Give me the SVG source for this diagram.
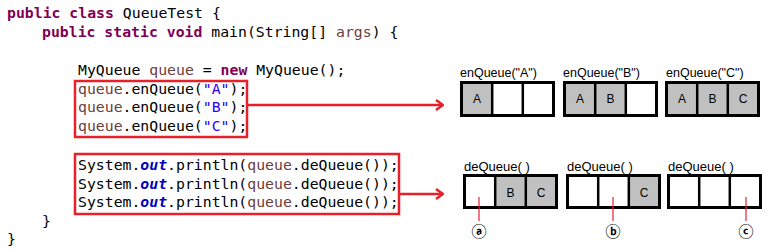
<svg xmlns="http://www.w3.org/2000/svg" width="773" height="252" viewBox="0 0 773 252" xml:space="preserve">
<defs>
<style>
.code{font-family:"DejaVu Sans Mono","Liberation Mono",monospace;font-size:14.8px;fill:#000}
.kw{font-weight:bold;fill:#7f0055}
.var{fill:#6a3e3e}
.str{fill:#2a00ff}
.fld{font-weight:bold;font-style:italic;fill:#0000c0}
.hl{fill:none;stroke:#e8202a;stroke-width:2.5}
.conn{fill:none;stroke:#e8202a;stroke-width:2.5}
.pin{fill:none;stroke:#e8202a;stroke-width:1.2}
.bg{fill:#fff}
.box{fill:none;stroke:#000;stroke-width:3}
.div{stroke:#000;stroke-width:2.5}
.g{fill:#c0c0c0}
.lbl{font-family:"Liberation Sans",Arial,sans-serif;font-size:12.5px;fill:#000}
.dlbl{font-family:"Liberation Sans",Arial,sans-serif;font-size:13px;fill:#000}
.cell{font-family:"Liberation Sans",Arial,sans-serif;font-size:12px;fill:#000;text-anchor:middle}
.circ{font-family:"DejaVu Sans","Noto Sans CJK SC",sans-serif;font-size:15px;font-weight:bold;fill:#000;text-anchor:middle}
</style>
<marker id="chev" viewBox="0 0 10 12" refX="9" refY="6" markerWidth="10" markerHeight="12" markerUnits="userSpaceOnUse" orient="auto">
<polyline points="2,1 9,6 2,11" fill="none" stroke="#e8202a" stroke-width="2.5"/>
</marker>
</defs>
<rect width="773" height="252" fill="#fff"/>

<g id="code" class="code">
<text x="7" y="18"><tspan class="kw">public class</tspan> QueueTest {</text>
<text x="42" y="37"><tspan class="kw">public static void</tspan> main(String[] <tspan class="var">args</tspan>) {</text>
<text x="78" y="75">MyQueue <tspan class="var">queue</tspan> = <tspan class="kw">new</tspan> MyQueue();</text>
<text x="78" y="94"><tspan class="var">queue</tspan>.enQueue(<tspan class="str">"A"</tspan>);</text>
<text x="78" y="112"><tspan class="var">queue</tspan>.enQueue(<tspan class="str">"B"</tspan>);</text>
<text x="78" y="131"><tspan class="var">queue</tspan>.enQueue(<tspan class="str">"C"</tspan>);</text>
<text x="78" y="170">System.<tspan class="fld">out</tspan>.println(<tspan class="var">queue</tspan>.deQueue());</text>
<text x="78" y="189">System.<tspan class="fld">out</tspan>.println(<tspan class="var">queue</tspan>.deQueue());</text>
<text x="78" y="207">System.<tspan class="fld">out</tspan>.println(<tspan class="var">queue</tspan>.deQueue());</text>
<text x="42" y="226">}</text>
<text x="7" y="244">}</text>
</g>

<g id="hl-enqueue"><rect class="hl" x="75" y="81" width="172" height="56"/></g>
<g id="hl-dequeue"><rect class="hl" x="75" y="154" width="324" height="60"/></g>

<g id="enq-A">
<text class="lbl" x="460" y="77">enQueue("A")</text>
<rect class="bg" x="461.5" y="82.5" width="92" height="33"/>
<rect class="g" x="461.5" y="82.5" width="30.7" height="33"/>
<rect class="box" x="461.5" y="82.5" width="92" height="33"/>
<line class="div" x1="492.2" y1="82.5" x2="492.2" y2="115.5"/>
<line class="div" x1="522.8" y1="82.5" x2="522.8" y2="115.5"/>
<text class="cell" x="477" y="103">A</text>
</g>

<g id="enq-B">
<text class="lbl" x="563" y="77">enQueue("B")</text>
<rect class="bg" x="564.5" y="82.5" width="92" height="33"/>
<rect class="g" x="564.5" y="82.5" width="61.3" height="33"/>
<rect class="box" x="564.5" y="82.5" width="92" height="33"/>
<line class="div" x1="595.2" y1="82.5" x2="595.2" y2="115.5"/>
<line class="div" x1="625.8" y1="82.5" x2="625.8" y2="115.5"/>
<text class="cell" x="580" y="103">A</text>
<text class="cell" x="610.5" y="103">B</text>
</g>

<g id="enq-C">
<text class="lbl" x="666" y="77">enQueue("C")</text>
<rect class="g" x="666.5" y="82.5" width="92" height="33"/>
<rect class="box" x="666.5" y="82.5" width="92" height="33"/>
<line class="div" x1="697.2" y1="82.5" x2="697.2" y2="115.5"/>
<line class="div" x1="727.8" y1="82.5" x2="727.8" y2="115.5"/>
<text class="cell" x="682" y="103">A</text>
<text class="cell" x="712.5" y="103">B</text>
<text class="cell" x="743" y="103">C</text>
</g>

<g id="deq-1">
<text class="dlbl" x="464" y="171">deQueue( )</text>
<rect class="bg" x="464.5" y="175.5" width="92" height="32"/>
<rect class="g" x="495.2" y="175.5" width="61.3" height="32"/>
<rect class="box" x="464.5" y="175.5" width="92" height="32"/>
<line class="div" x1="495.2" y1="175.5" x2="495.2" y2="207.5"/>
<line class="div" x1="525.8" y1="175.5" x2="525.8" y2="207.5"/>
<text class="cell" x="510.5" y="197">B</text>
<text class="cell" x="541" y="197">C</text>
<text class="circ" x="479" y="237">ⓐ</text>
</g>

<g id="deq-2">
<text class="dlbl" x="567" y="171">deQueue( )</text>
<rect class="bg" x="567.5" y="175.5" width="92" height="32"/>
<rect class="g" x="628.8" y="175.5" width="30.7" height="32"/>
<rect class="box" x="567.5" y="175.5" width="92" height="32"/>
<line class="div" x1="598.2" y1="175.5" x2="598.2" y2="207.5"/>
<line class="div" x1="628.8" y1="175.5" x2="628.8" y2="207.5"/>
<text class="cell" x="644" y="197">C</text>
<text class="circ" x="613" y="237">ⓑ</text>
</g>

<g id="deq-3">
<text class="dlbl" x="668" y="171">deQueue( )</text>
<rect class="bg" x="668.5" y="175.5" width="92" height="32"/>
<rect class="box" x="668.5" y="175.5" width="92" height="32"/>
<line class="div" x1="699.2" y1="175.5" x2="699.2" y2="207.5"/>
<line class="div" x1="729.8" y1="175.5" x2="729.8" y2="207.5"/>
<text class="circ" x="746" y="237">ⓒ</text>
</g>

<g id="connectors">
<line class="conn" x1="248" y1="105" x2="443" y2="105" marker-end="url(#chev)"/>
<line class="conn" x1="400" y1="194" x2="443" y2="194" marker-end="url(#chev)"/>
<line class="pin" x1="479" y1="197" x2="479" y2="221"/>
<line class="pin" x1="613" y1="197" x2="613" y2="221"/>
<line class="pin" x1="746" y1="197" x2="746" y2="221"/>
</g>
</svg>
